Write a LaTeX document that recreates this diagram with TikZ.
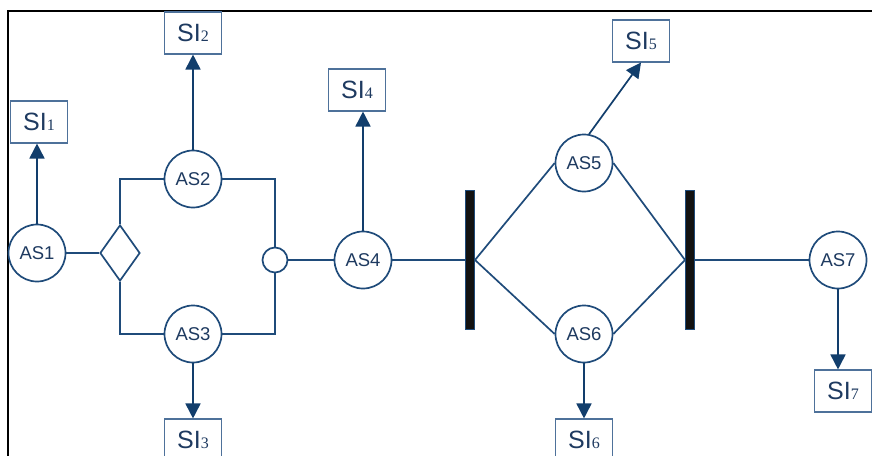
\documentclass[tikz,border=0pt]{standalone}
\usepackage{fontspec}
\usetikzlibrary{arrows.meta, shapes.geometric}
\newfontfamily\arialfont{Liberation Sans}
\newfontfamily\timesfont{Liberation Serif}
\definecolor{lineblue}{HTML}{1F4B7A}
\definecolor{headblue}{HTML}{123E6C}
\definecolor{boxblue}{HTML}{4E719A}
\definecolor{inkblue}{HTML}{1E3A60}
\definecolor{barblack}{HTML}{121212}

% label of an SI box: sans "SI" with a serif index
\newcommand{\silabel}[1]{{\fontsize{25}{25}\arialfont SI}{\fontsize{16}{16}\timesfont #1}}

\begin{document}
\begin{tikzpicture}[
  x=1pt, y=-1pt,
  act/.style={circle, draw=lineblue, line width=1.7pt, fill=white, minimum size=57pt, inner sep=0pt,
    text=inkblue, font=\fontsize{18.5}{18.5}\arialfont},
  sibox/.style={rectangle, draw=boxblue, line width=1.1pt, fill=white, minimum width=57pt, minimum height=42pt,
    inner sep=0pt, text=inkblue},
  mergept/.style={circle, draw=lineblue, line width=1.7pt, fill=white, minimum size=25pt, inner sep=0pt},
  splitdia/.style={diamond, draw=lineblue, line width=1.7pt, fill=white, minimum width=40pt, minimum height=56pt,
    inner sep=0pt},
  syncbar/.style={rectangle, draw=lineblue, line width=1pt, fill=barblack, minimum width=9pt, minimum height=139pt,
    inner sep=0pt},
  link/.style={lineblue, line width=1.7pt},
  outarrow/.style={link, -{Triangle[length=15pt, width=15pt]}, headblue},
]
\useasboundingbox (0,0) rectangle (872,455);
\clip (0,0) rectangle (872,455);

% ===== Frame =====
\draw[black, line width=2.2pt] (8,460) -- (8,11) -- (880,11);

% ===== Left block: split into AS2 / AS3, joined again =====
\node[act] (AS1) at (37,253) {AS1};
\node[splitdia] (dia) at (120,253) {};
\node[act] (AS2) at (193,179) {AS2};
\node[act] (AS3) at (193,334) {AS3};
\node[mergept] (mrg) at (275,260) {};

\draw[link] (AS1) -- (dia);
\draw[link] (dia.north) |- (AS2.west);
\draw[link] (dia.south) |- (AS3.west);
\draw[link] (AS2.east) -| (mrg.north);
\draw[link] (AS3.east) -| (mrg.south);

% ===== Middle block: fork and synchronisation bars =====
\node[act] (AS4) at (363,260) {AS4};
\node[syncbar] (fork) at (470,260) {};
\node[act] (AS5) at (584,163) {AS5};
\node[act] (AS6) at (584,334) {AS6};
\node[syncbar] (sync) at (690,260) {};
\node[act] (AS7) at (838,260) {AS7};

\draw[link] (mrg) -- (AS4);
\draw[link] (AS4) -- (fork.west);
\draw[link] (fork.east) -- (AS5.west);
\draw[link] (fork.east) -- (AS6.west);
\draw[link] (AS5.east) -- (sync.west);
\draw[link] (AS6.east) -- (sync.west);
\draw[link] (sync.east) -- (AS7);

% ===== SI outputs =====
\node[sibox] (SI1) at (39,122) {\silabel{1}};
\node[sibox] (SI2) at (193,33) {\silabel{2}};
\node[sibox] (SI3) at (193,440) {\silabel{3}};
\node[sibox] (SI4) at (357,90) {\silabel{4}};
\node[sibox] (SI5) at (641,41) {\silabel{5}};
\node[sibox] (SI6) at (584,440) {\silabel{6}};
\node[sibox] (SI7) at (843,391) {\silabel{7}};

\draw[outarrow] (AS1.north) -- (AS1.north |- SI1.south);
\draw[outarrow] (AS2) -- (SI2);
\draw[outarrow] (AS3) -- (SI3);
\draw[outarrow] (AS4.north) -- (AS4.north |- SI4.south);
\draw[outarrow] (AS5.80) -- (SI5.south);
\draw[outarrow] (AS6) -- (SI6);
\draw[outarrow] (AS7.south) -- (AS7.south |- SI7.north);

\end{tikzpicture}
\end{document}
